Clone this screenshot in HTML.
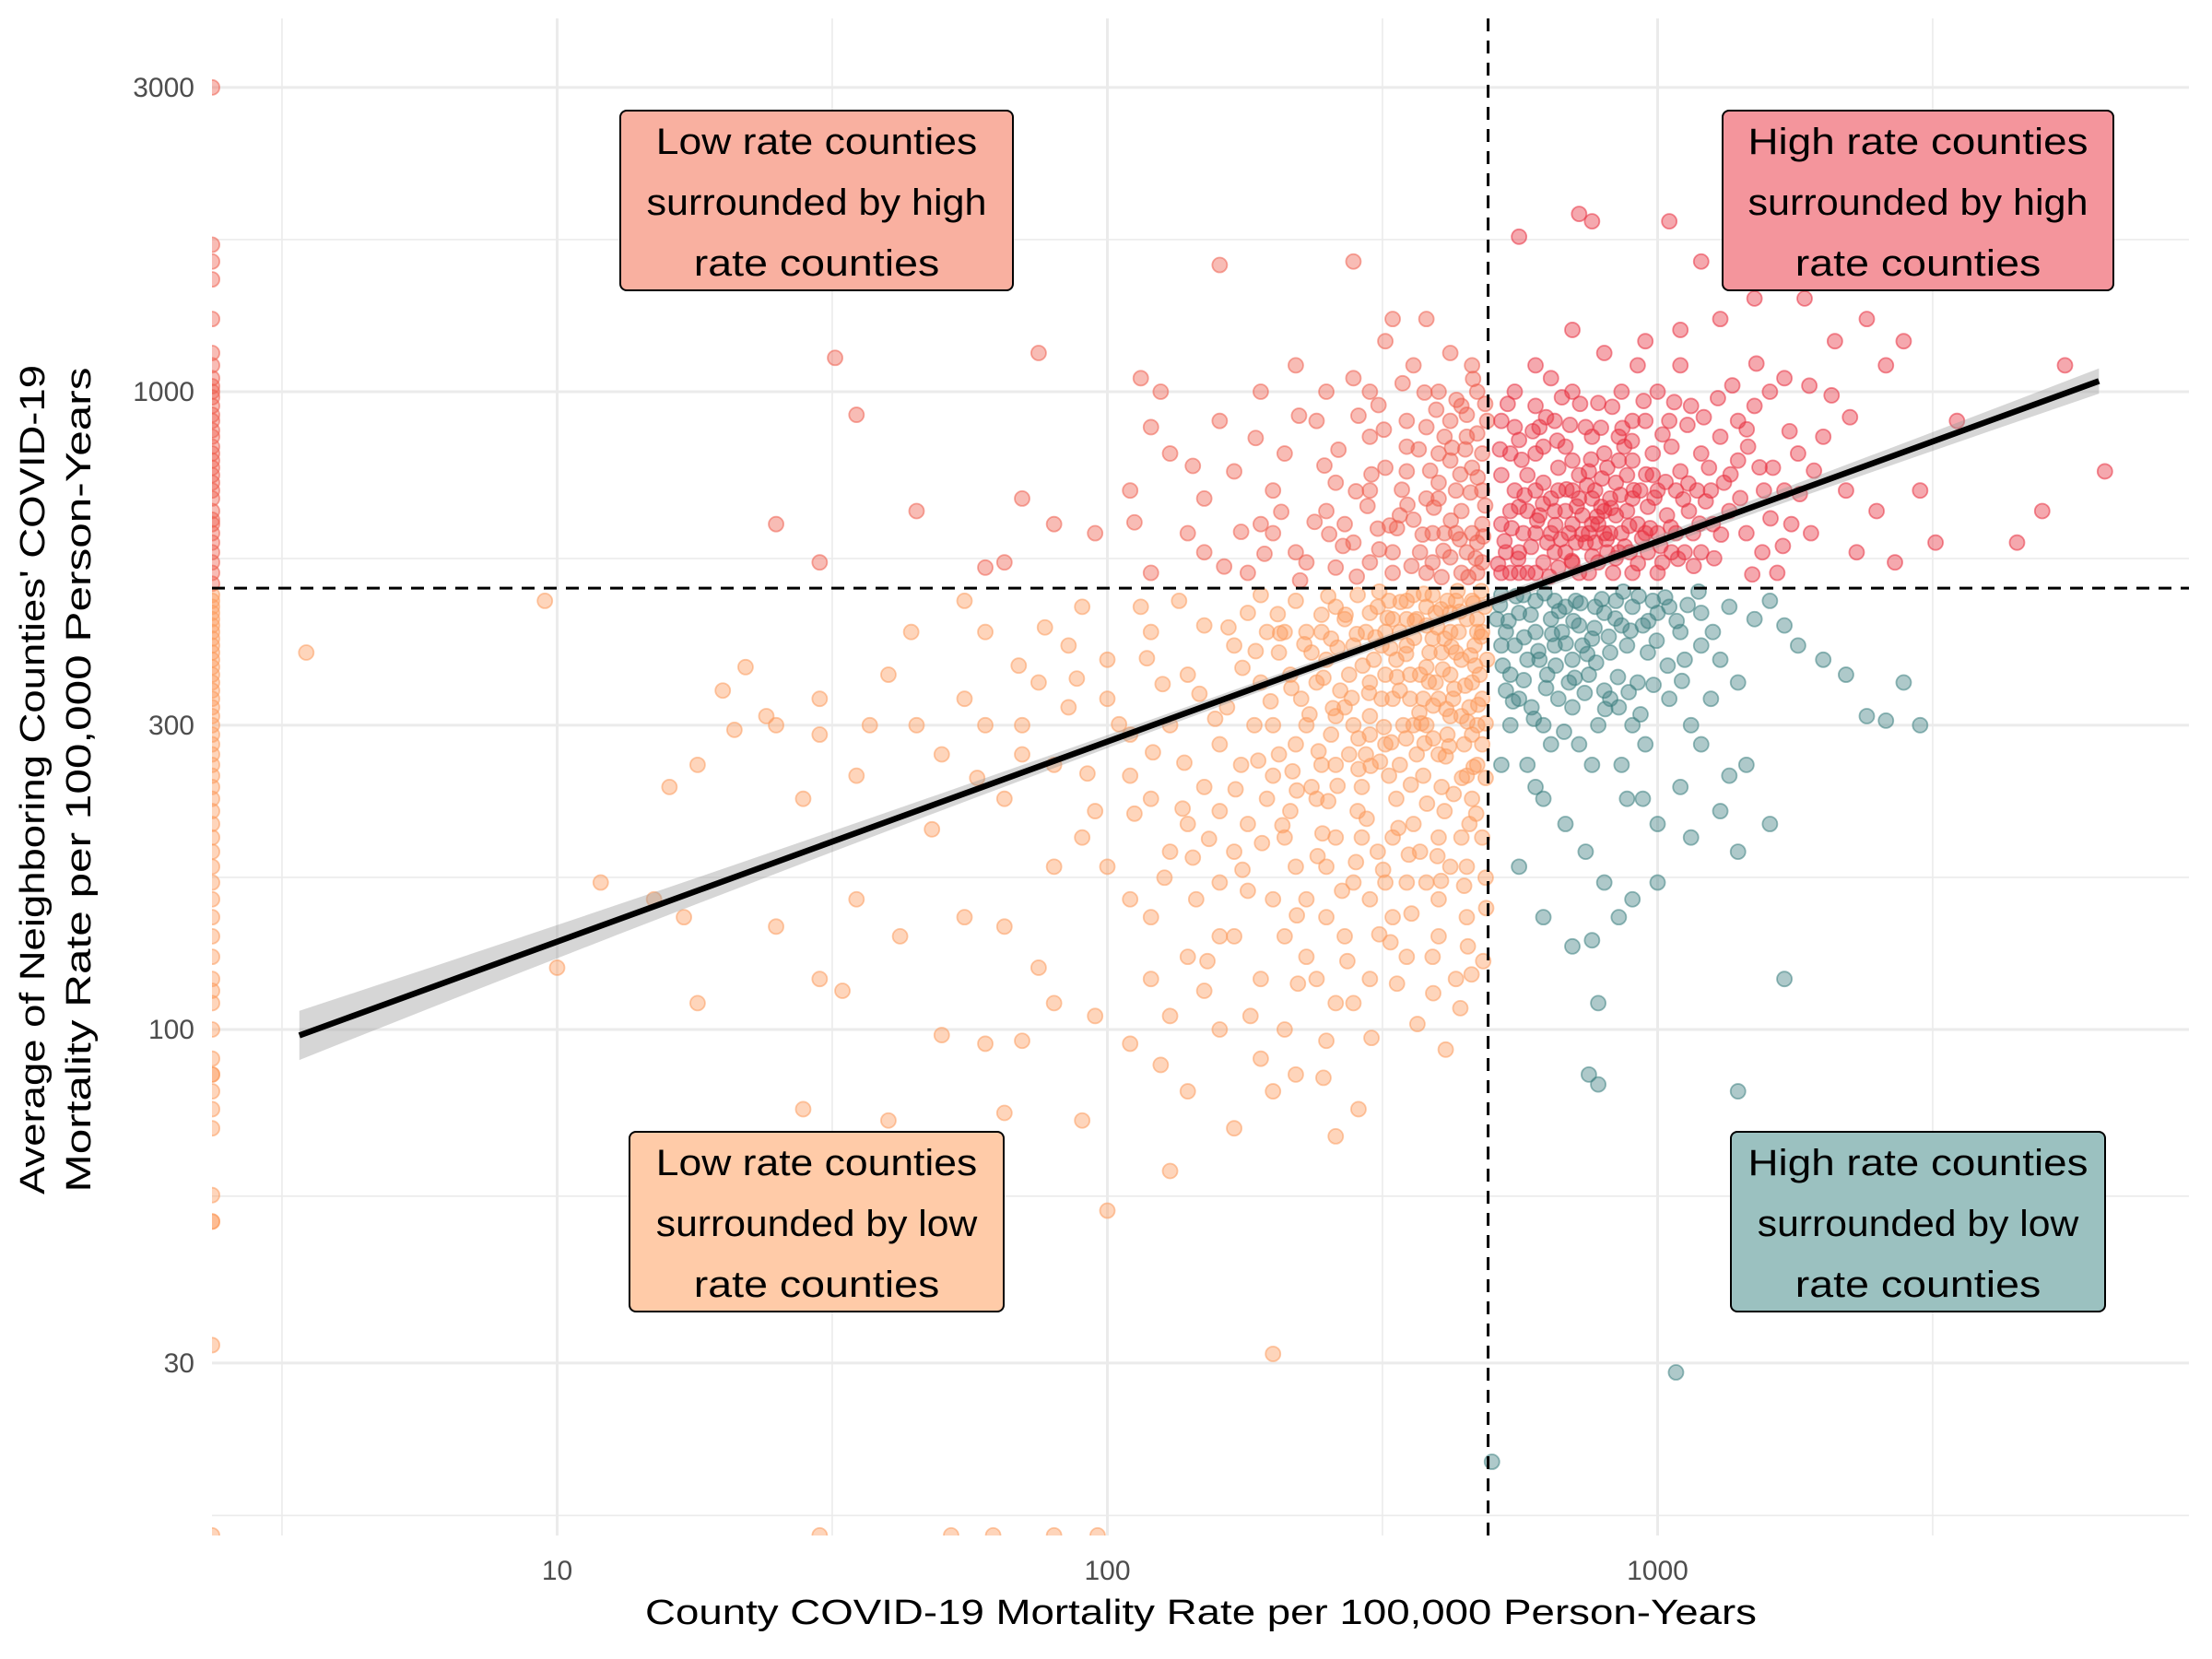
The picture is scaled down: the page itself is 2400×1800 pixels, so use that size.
<!DOCTYPE html>
<html><head><meta charset="utf-8"><style>
html,body{margin:0;padding:0;background:#fff;}
svg{display:block;font-family:"Liberation Sans",sans-serif;}
</style></head><body>
<svg id="chart" width="2400" height="1800" viewBox="0 0 2400 1800" xmlns="http://www.w3.org/2000/svg">
<rect width="2400" height="1800" fill="#fff"/>
<defs><clipPath id="pc"><rect x="230" y="20" width="2145" height="1646"/></clipPath></defs>
<g id="grid"></g>
<g id="pts" clip-path="url(#pc)"></g>
<g id="fit"></g>
<g id="ref"></g>
<g id="axes"></g>
<g id="boxes"></g>
<text x="1303" y="1762" font-size="38" text-anchor="middle" textLength="1206" lengthAdjust="spacingAndGlyphs">County COVID-19 Mortality Rate per 100,000 Person-Years</text>
<text transform="translate(48,846) rotate(-90)" font-size="38" text-anchor="middle" textLength="900" lengthAdjust="spacingAndGlyphs">Average of Neighboring Counties' COVID-19</text>
<text transform="translate(98,846) rotate(-90)" font-size="38" text-anchor="middle" textLength="895" lengthAdjust="spacingAndGlyphs">Mortality Rate per 100,000 Person-Years</text>
</svg>
<script>
const xTicks=[10,100,1000];
const yTicks=[30,100,300,1000,3000];
const threshold=492;
const fitIntercept=1.824, fitSlope=0.3137;
const fitRange=[3.4,6340];
const zeroRateNeighbor=[3000,1700,1600,1500,1300,1150,1100,1050,1020,1000,980,950,920,900,870,850,820,800,780,760,740,720,700,680,650,630,620,600,580,560,540,520,500,480,470,460,450,440,430,420,410,400,390,380,370,360,350,340,330,320,310,300,290,280,270,260,250,240,230,220,210,200,190,180,170,160,150,140,130,120,115,110,100,90,85,85,80,75,70,55,50,50,32];
const zeroNeighborRate=[2.36,30,52,62,80,96];
const llPoints=[[210,420],[250,380],[300,350],[350,400],[420,450],[460,470],[380,300],[320,280],[270,320],[230,300],[190,350],[170,400],[160,280],[200,250],[240,230],[290,240],[340,260],[400,330],[440,380],[470,300],[450,250],[410,220],[360,210],[310,190],[260,200],[220,180],[180,210],[150,240],[130,300],[140,360],[120,420],[110,250],[100,330],[95,220],[130,190],[160,170],[200,160],[250,150],[300,160],[350,170],[420,180],[480,200],[470,420],[430,470],[390,480],[350,470],[300,450],[260,460],[220,470],[180,450],[150,430],[190,480],[280,400],[330,330],[370,360],[410,410],[460,350],[440,310],[400,270],[360,300],[320,360],[280,300],[240,350],[200,300],[260,260],[300,310],[340,420],[380,430],[420,360],[470,260],[480,330],[450,440],[405,390],[365,440],[325,470],[285,480],[245,420],[205,390],[165,320],[175,260],[215,220],[255,290],[295,270],[335,230],[375,250],[415,290],[455,210],[490,380],[485,460],[395,350],[355,330],[315,400],[275,360],[235,390],[195,420],
[225,330],[265,340],[305,380],[345,300],[385,390],[425,330],[465,400],[445,280],[405,240],[365,270],[325,250],[285,220],[245,260],[205,270],[185,300],[215,360],[255,410],[295,420],[335,380],[375,330],[415,470],[455,320],[475,360],[435,420],[395,450],[355,360],[315,330],[275,270],[235,240],[195,230],[310,460],[350,440],[390,410],[430,390],[470,440],[480,280],[460,230],[440,200],[400,200],[370,190],[330,200],[290,200],[250,180],[210,200],[230,420],[270,440],[330,440],[380,460],[420,420],[300,290],[340,340],[380,370],[420,310],[460,290],[260,310],[220,280],[480,420],[360,480],[320,420],
[120,150],[140,130],[170,140],[190,120],[230,130],[270,140],[330,150],[280,170],[210,140],[150,115],[130,105],[110,160],[100,180],[90,200],[80,260],[70,300],[75,350],[85,400],[90,460],[60,420],[55,330],[50,270],[65,230],[45,300],[40,360],[35,250],[30,330],[25,300],[22,370],[20,340],[18,260],[16,240],[28,230],[35,160],[42,140],[55,150],[65,145],[75,125],[80,110],[95,105],[110,95],[125,88],[140,80],[160,100],[190,90],[220,85],[250,96],[210,100],[300,120],[350,130],[400,140],[450,150],[280,110],[380,170],[200,80],[170,70],[260,68],[130,60],[100,52],[90,72],[70,96],[60,95],[50,98],[28,75],[40,72],[65,74],[18,110],[17,150],[12,170],[10,125],[25,145],[30,120],[33,115],[3.5,390],[9.5,470],[200,31],[15,160],[120,230],[140,210],[110,290],[100,380],[85,320],[115,460],[135,470],[60,300],[70,270],[80,180],[170,190],[160,220],[145,160],[180,165],[230,160],[320,170],[400,160],[450,180],[390,130],[430,120],[160,140],[120,120],[240,120],[260,110]];
const llCore=[[233,312],[247,356],[262,397],[278,331],[291,372],[307,412],[318,298],[336,357],[349,388],[362,437],[377,281],[391,322],[407,367],[422,398],[437,452],[451,304],[466,372],[478,413],[216,343],[228,402],[242,273],[257,319],[271,447],[286,286],[299,337],[313,263],[327,396],[341,468],[356,242],[369,314],[384,351],[398,427],[412,268],[427,342],[441,248],[457,386],[472,323],[487,248],[198,327],[204,448],[217,254],[252,228],[296,214],[338,207],[381,226],[426,234],[468,218],[188,264],[176,369],[166,427],[157,307],[147,336],[138,262],[126,348],[118,382],[241,187],[283,183],[317,178],[353,188],[398,187],[445,168],[487,173],[221,151],[267,165],[312,141],[357,152],[404,171],[452,135],[488,155],[273,128],[336,118],[391,114],[438,108],[482,128],[222,118],[182,105],[152,128],[302,97],[247,84],[286,75],[327,137],[366,102],[412,93],[459,122],[391,286],[413,318],[447,346],[463,466],[478,487],[433,487],[376,482],[312,486],[252,478],[404,456],[361,411],[323,442],[284,417],[245,447],[206,418],[186,392],[349,286],[301,259],[262,241],[221,237],[191,196],[171,238],[153,199],[137,222],[121,272],[105,301],[112,218],[92,252],[88,355],[77,427],[69,372],[58,248],[48,206],[37,300],[44,420],[55,470],[30,290],[21,295],[24,310],[127,173],[143,186],[176,178],[208,209],[246,203],[286,256],[328,282],[372,302],[418,278],[463,258],[487,302]];
const lhPoints=[[120,520],[150,560],[200,600],[250,650],[300,700],[350,750],[400,800],[450,850],[480,700],[460,600],[420,550],[380,520],[330,560],[280,580],[230,540],[180,520],[140,600],[110,700],[130,800],[160,900],[190,1000],[220,1100],[280,1050],[320,1200],[380,1300],[420,1150],[470,1000],[440,950],[400,680],[360,630],[310,610],[260,720],[210,800],[170,750],[125,1000],[115,1050],[95,600],[80,620],[65,540],[60,530],[45,650],[25,620],[30,540],[70,680],[75,1150],[32,1130],[35,920],[53,1700],[65,1700],[160,1580],[280,1600],[330,1300],[400,1000],[470,860],[450,560],[480,540],[350,900],[300,850],[240,900],[200,700],[150,680],[120,880],[270,620],[330,520],[390,600],[430,700],[480,800],[460,1100],[250,1000],[190,620],[300,1000],[420,900],[360,1100],[440,520],[470,580],[410,600],[370,560],[340,640],[300,540],[260,530],[220,560],[400,720],[440,650],[480,620],[460,760],[420,780],[380,680],[350,820],[320,760],[380,880],[450,920],[490,900],[470,520],[430,600],[390,540],[410,850],
[453,512],[467,548],[482,593],[437,587],[421,628],[405,512],[392,658],[374,597],[357,533],[343,702],[326,617],[312,566],[297,662],[284,513],[268,573],[253,598],[238,625],[224,506],[207,648],[193,557],[175,603],[163,532],[486,663],[471,734],[457,695],[438,742],[423,817],[408,563],[386,752],[368,812],[351,665],[336,611],[318,872],[302,742],[283,698],[263,811],[248,766],[486,957],[462,1047],[447,812],[431,971],[396,937],[377,997],[344,1031],[311,953],[286,917],[223,917],[186,846],[143,765],[112,624]];
const hhPoints=[[520,520],[560,560],[600,600],[650,650],[700,700],[750,750],[800,800],[850,850],[900,900],[550,700],[600,800],[650,900],[700,1000],[750,600],[800,650],[850,560],[900,520],[950,600],[1000,700],[1100,750],[1200,800],[1300,850],[1400,900],[1500,950],[1600,1000],[1700,1050],[1800,800],[2000,850],[2200,700],[2500,650],[3000,700],[3200,580],[4500,580],[5000,650],[6500,750],[5500,1100],[3500,900],[2800,1200],[2600,1100],[2400,1300],[2100,1200],[1800,1500],[1500,1400],[1300,1300],[1100,1250],[950,1200],[800,1150],[700,1250],[600,1100],[550,1000],[520,900],[540,800],[580,650],[620,540],[680,560],[720,520],[780,540],[820,600],[880,650],[930,700],[980,800],[1050,900],[1150,950],[1250,700],[1350,650],[1450,600],[1550,560],[1650,520],[1750,620],[1900,600],[2300,560],[2700,540],[1200,1600],[1050,1850],[760,1850],[720,1900],[560,1750],[1400,2000],[2300,2400],[3500,2200],[1550,1550],[1850,1400],[620,720],[680,820],[740,880],[760,680],[840,720],[900,780],[960,560],[1020,540],[1080,600],[1140,650],[1200,560],[1260,620],[1320,720],[1400,780],[1460,820],[1560,700],[1620,760],[1700,700],[520,620],[560,840],[600,950],[640,1050],[700,780],[780,960],[860,1000],[920,1100],[1000,1000],[1100,1100],[580,520],[640,600],[700,620],[770,580],[830,520],[660,700],[720,740],[810,760],[870,820],[950,900],
[530,560],[570,600],[610,640],[650,560],[690,600],[730,640],[770,700],[810,560],[540,650],[580,740],[620,820],[660,760],[700,540],[740,580],[780,620],[820,680],[860,600],[890,560],[540,520],[600,520],[660,530],[520,740],[560,660],[600,700],[640,680],[680,650],[720,680],[760,620],[800,600],[840,640],[880,740],[920,620],[960,660],[1000,600],[1040,640],[1080,700],[1120,560],[1160,600],[1000,520],[1060,560],[1180,700],[1240,760],[560,520],[630,580],[710,580],[750,520],[790,660],[850,780],[550,880],[610,880],[670,980],[760,850],[900,680],[980,740],[1060,820],
[513,537],[527,583],[543,611],[558,547],[573,688],[589,571],[604,628],[619,667],[636,513],[652,618],[667,587],[683,703],[698,543],[713,661],[729,598],[744,713],[761,552],[776,637],[792,731],[808,587],[823,657],[839,548],[856,689],[872,572],[888,616],[905,701],[921,538],[937,589],[953,742],[969,611],[987,682],[1012,573],[1034,722],[1057,613],[1089,547],[1113,678],[1137,718],[1163,533],[1192,621],[1223,673],[1267,548],[1304,597],[1357,742],[1413,681],[1486,517],[1532,761],[1604,633],[1689,573],[1813,691],[1924,752],[517,812],[534,957],[566,782],[593,867],[627,912],[657,838],[693,887],[723,957],[757,783],[789,878],[827,947],[863,877],[898,837],[943,967],[1021,857],[1072,963],[1133,887],[1213,912],[1287,977],[1367,1023],[1452,873],[1512,1107],[1737,867],[1887,1022],[2071,987],[2237,912]];
const hlPoints=[[520,480],[560,450],[600,420],[650,400],[700,380],[750,360],[800,340],[850,320],[900,300],[950,280],[1000,450],[1100,420],[1200,400],[1300,380],[1400,350],[1500,440],[1600,470],[1800,400],[2000,380],[2200,360],[2400,310],[2600,305],[3000,300],[2800,350],[1700,430],[540,300],[580,260],[620,230],[680,210],[740,190],[800,170],[850,150],[900,160],[1000,210],[1100,240],[1200,280],[1300,220],[1400,190],[1450,260],[560,180],[620,150],[700,135],[760,138],[780,110],[750,85],[780,82],[1400,80],[1700,120],[1080,29],[500,21],[520,400],[540,360],[560,330],[600,470],[640,440],[680,460],[720,430],[760,410],[800,450],[840,470],[880,400],[920,350],[960,390],[1050,330],[1150,300],[1250,330],[520,260],[580,380],[660,330],[720,280],[860,260],[940,230],[620,300],[700,320],[780,300],[880,230],[1000,170],[1150,200],[1600,210],[1350,250],[510,440],[530,420],[550,400],[570,480],[610,380],[630,360],[650,470],[670,420],[690,350],[710,470],[730,400],[770,460],[820,390],[860,430],[900,460],[940,430],[980,470],[530,340],[590,320],[640,280],[760,260],[820,330],[1050,460],[1120,380],[1200,450],[1260,420],[1350,460],[600,240],
[517,463],[536,437],[553,478],[572,412],[588,447],[607,392],[623,483],[643,417],[662,453],[681,403],[703,437],[724,466],[745,388],[768,426],[792,473],[815,413],[838,441],[866,486],[893,422],[924,478],[962,437],[996,407],[1032,476],[1083,437],[1134,463],[1187,486],[523,372],[546,327],[571,353],[596,307],[627,343],[653,372],[676,293],[707,356],[737,337],[773,376],[803,318],[847,357],[886,338],[931,312],[983,347],[1043,372],[1107,352]];

const NS='http://www.w3.org/2000/svg';
const L=Math.log10;
function X(v){return 1201.5+597*(L(v)-2);}
function Y(v){return 1117-692*(L(v)-2);}
const xMin=2.36, yMin=16.1;
function mk(tag,attrs,parent){const e=document.createElementNS(NS,tag);for(const k in attrs)e.setAttribute(k,attrs[k]);parent.appendChild(e);return e;}
const grid=document.getElementById('grid');
[3.162,31.62,316.2,3162].forEach(v=>{const l=mk('line',{x1:X(v),x2:X(v),y1:20,y2:1666,stroke:'#ebebeb','stroke-width':1.6},grid);

});
xTicks.forEach(v=>{const l=mk('line',{x1:X(v),x2:X(v),y1:20,y2:1666,stroke:'#ebebeb','stroke-width':3},grid);

});
[17.3,54.8,173.2,547.7,1732].forEach(v=>{const l=mk('line',{x1:230,x2:2375,y1:Y(v),y2:Y(v),stroke:'#ebebeb','stroke-width':1.6},grid);

});
yTicks.forEach(v=>{const l=mk('line',{x1:230,x2:2375,y1:Y(v),y2:Y(v),stroke:'#ebebeb','stroke-width':3},grid);

});
const pts=document.getElementById('pts');
function dot(x,y,col,name){
  const cx=X(Math.max(x,xMin)), cy=Y(Math.max(y,yMin));
  const c=mk('circle',{cx:cx,cy:cy,r:8,fill:col,'fill-opacity':0.42,stroke:col,'stroke-opacity':0.55,'stroke-width':1.8},pts);
  
  
}
function colorFor(x,y){if(x>=threshold&&y>=threshold)return '#E8303F';if(x<threshold&&y>=threshold)return '#EF5F4E';if(x>=threshold)return '#3D7F80';return '#FC9A5C';}
zeroRateNeighbor.forEach(y=>dot(0,y,colorFor(0,y),'zero-rate-point'));
zeroNeighborRate.forEach(x=>dot(x,0,colorFor(x,0),'zero-neighbor-point'));
llPoints.forEach(p=>dot(p[0],p[1],colorFor(p[0],p[1]),'low-low-point'));
llCore.forEach(p=>dot(p[0],p[1],colorFor(p[0],p[1]),'low-low-point'));
lhPoints.forEach(p=>dot(p[0],p[1],colorFor(p[0],p[1]),'low-high-point'));
hhPoints.forEach(p=>dot(p[0],p[1],colorFor(p[0],p[1]),'high-high-point'));
hlPoints.forEach(p=>dot(p[0],p[1],colorFor(p[0],p[1]),'high-low-point'));
const fit=document.getElementById('fit');
const lx0=L(fitRange[0]), lx1=L(fitRange[1]);
let up=[],dn=[],ln=[];
for(let i=0;i<=40;i++){const lx=lx0+(lx1-lx0)*i/40;const ly=fitIntercept+fitSlope*lx;const se=0.008+0.0075*Math.pow(lx-2.55,2);
 const xp=X(Math.pow(10,lx));up.push(xp+','+Y(Math.pow(10,ly+se)));dn.unshift(xp+','+Y(Math.pow(10,ly-se)));ln.push(xp+','+Y(Math.pow(10,ly)));}
const band=mk('polygon',{points:up.concat(dn).join(' '),fill:'#999','fill-opacity':0.4},fit);


const fl=mk('polyline',{points:ln.join(' '),fill:'none',stroke:'#000','stroke-width':6.5},fit);


const ref=document.getElementById('ref');
const vl=mk('line',{x1:X(threshold),x2:X(threshold),y1:20,y2:1666,stroke:'#000','stroke-width':3,'stroke-dasharray':'14,10'},ref);


const hl=mk('line',{x1:230,x2:2375,y1:Y(threshold),y2:Y(threshold),stroke:'#000','stroke-width':3,'stroke-dasharray':'14,10'},ref);


const axes=document.getElementById('axes');
xTicks.forEach(v=>{const t=mk('text',{x:X(v),y:1714,'font-size':30,fill:'#4d4d4d','text-anchor':'middle'},axes);t.textContent=v;

});
yTicks.forEach(v=>{const t=mk('text',{x:211,y:Y(v)+10,'font-size':30,fill:'#4d4d4d','text-anchor':'end'},axes);t.textContent=v;

});
const boxes=document.getElementById('boxes');
const boxDefs=[
 {x:673,y:120,w:426,h:195,fill:'#F9B0A0',lines:['Low rate counties','surrounded by high','rate counties'],name:'low-high-label'},
 {x:1869,y:120,w:424,h:195,fill:'#F4959C',lines:['High rate counties','surrounded by high','rate counties'],name:'high-high-label'},
 {x:683,y:1228,w:406,h:195,fill:'#FFCBA8',lines:['Low rate counties','surrounded by low','rate counties'],name:'low-low-label'},
 {x:1878,y:1228,w:406,h:195,fill:'#9BC1C0',lines:['High rate counties','surrounded by low','rate counties'],name:'high-low-label'}];
boxDefs.forEach(b=>{const g=mk('g',{},boxes);
 
 
 mk('rect',{x:b.x,y:b.y,width:b.w,height:b.h,rx:7,fill:b.fill,stroke:'#000','stroke-width':2},g);
 b.lines.forEach((s,i)=>{const t=mk('text',{x:b.x+b.w/2,y:b.y+47+i*66,'font-size':40,'text-anchor':'middle',textLength:s.length*20.5,lengthAdjust:'spacingAndGlyphs'},g);t.textContent=s;});});
</script>
</body></html>
